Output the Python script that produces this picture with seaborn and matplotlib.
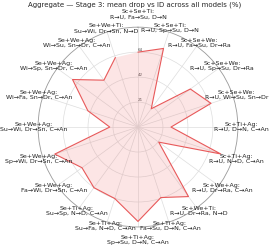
import numpy as np
import matplotlib
matplotlib.use("Agg")
import matplotlib.pyplot as plt
import seaborn as sns

# Stage 3 shift combos (clockwise from top) and mean drop vs ID (%)
combos = [
    "Sc+Se+Ti:\nR→U, Fa→Su, D→N",
    "Sc+Se+Ti:\nR→U, Sp→Su, D→N",
    "Sc+Se+We:\nR→U, Fa→Su, Dr→Ra",
    "Sc+Se+We:\nR→U, Sp→Su, Dr→Ra",
    "Sc+Se+We:\nR→U, Wi→Su, Sn→Dr",
    "Sc+Ti+Ag:\nR→U, D→N, C→An",
    "Sc+Ti+Ag:\nR→U, N→D, C→An",
    "Sc+We+Ag:\nR→U, Dr→Ra, C→An",
    "Sc+We+Ti:\nR→U, Dr→Ra, N→D",
    "Se+Ti+Ag:\nFa→Su, D→N, C→An",
    "Se+Ti+Ag:\nSp→Su, D→N, C→An",
    "Se+Ti+Ag:\nSu→Fa, N→D, C→An",
    "Se+Ti+Ag:\nSu→Sp, N→D, C→An",
    "Se+We+Ag:\nFa→Wi, Dr→Sn, C→An",
    "Se+We+Ag:\nSp→Wi, Dr→Sn, C→An",
    "Se+We+Ag:\nSu→Wi, Dr→Sn, C→An",
    "Se+We+Ag:\nWi→Fa, Sn→Dr, C→An",
    "Se+We+Ag:\nWi→Sp, Sn→Dr, C→An",
    "Se+We+Ag:\nWi→Su, Sn→Dr, C→An",
    "Se+We+Ti:\nSu→Wi, Dr→Sn, N→D",
]
mean_drop = [64, 70.6, 19.3, 55.3, 65.6, 28.2, 74.3, 21.9, 73.4, 63.3,
             80.6, 64.2, 64, 59.1, 74.7, 24.1, 45, 69.1, 49.5, 62.5]

r_max = 85.33
r_ticks = [21.33, 42.67, 64.0]
r_ticklabels = ["21", "42", "64"]

sns.set_theme(style="white")
plt.rcParams["font.family"] = ["DejaVu Sans"]

n = len(combos)
theta = np.linspace(0, 2 * np.pi, n, endpoint=False)
theta_c = np.append(theta, theta[0])
vals_c = np.append(mean_drop, mean_drop[0])

fig = plt.figure(figsize=(2.7, 2.46), dpi=100)
ax = fig.add_axes([0.141, 0.077, 0.74, 0.813], projection="polar")
ax.set_theta_zero_location("N")
ax.set_theta_direction(-1)

ax.fill(theta_c, vals_c, color="#f08080", alpha=0.2, lw=0)
sns.lineplot(x=theta_c, y=vals_c, ax=ax, sort=False, color="#e8595a", lw=0.8)

ax.set_ylim(0, r_max)
ax.set_yticks(r_ticks)
ax.set_yticklabels(r_ticklabels, fontsize=3, color="#555555")
ax.set_rlabel_position(0)
ax.set_xticks(theta)
ax.set_xticklabels([])
ax.grid(True, color="#dddddd", lw=0.5)
ax.spines["polar"].set_color("#999999")
ax.spines["polar"].set_linewidth(0.6)
ax.set_xlabel("")
ax.set_ylabel("")

# category labels just outside the rim (top/bottom pushed a bit further)
for t, lab in zip(theta, combos):
    far = np.isclose(np.cos(t), 1) or np.isclose(np.cos(t), -1)
    r_lab = r_max * (1.13 if far else 1.04)
    ax.text(t, r_lab, lab, ha="center", va="center", fontsize=4.5,
            color="#222222", clip_on=False, linespacing=1.05)

fig.suptitle("Aggregate — Stage 3: mean drop vs ID across all models (%)",
             fontsize=5, y=0.995)

fig.savefig("out.png", dpi=100)
